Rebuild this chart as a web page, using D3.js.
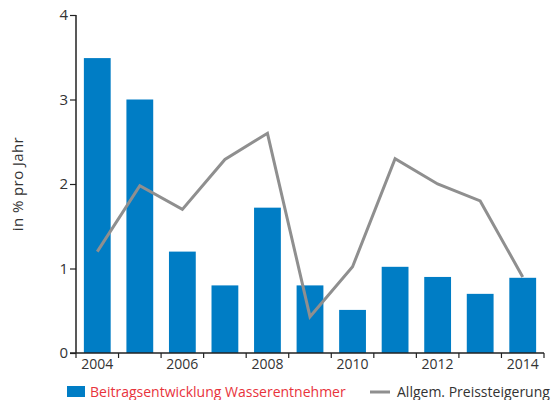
<!DOCTYPE html>
<html><head><meta charset="utf-8">
<script src="https://d3js.org/d3.v7.min.js"></script>
<style>body{margin:0;background:#fff}svg{display:block}text{font-family:"Open Sans",sans-serif}</style>
</head><body><svg id="c" width="556" height="400"></svg>
<script>
const years = ["2004","2005","2006","2007","2008","2009","2010","2011","2012","2013","2014"];
const beitrag = [3.49, 3.0, 1.2, 0.8, 1.72, 0.8, 0.51, 1.02, 0.9, 0.7, 0.89];
const preis = [1.2, 1.98, 1.7, 2.29, 2.6, 0.43, 1.02, 2.3, 2.0, 1.8, 0.9];
const yTicks = [0, 1, 2, 3, 4];
const labelYears = ["2004","2006","2008","2010","2012","2014"];
const seriesNames = ["Beitragsentwicklung Wasserentnehmer", "Allgem. Preissteigerung"];

(function(){
const svg = d3.select("#c");
const mL = 76, mR = 544, mT = 15, mB = 353;
const x = d3.scaleBand().domain(years).range([mL, mR]).paddingInner(0.37).paddingOuter(0.185);
const xb = d3.scaleBand().domain(years).range([mL, mR]);
const y = d3.scaleLinear().domain([0, 4]).range([mB, mT]);
const txt = "#333";

svg.selectAll("rect.bar").data(years).enter().append("rect")
  .attr("class","bar")
  .attr("x", d => x(d)).attr("width", x.bandwidth())
  .attr("y", (d,i) => y(beitrag[i])).attr("height", (d,i) => y(0) - y(beitrag[i]))
  .attr("fill", "#007dc5");

const line = d3.line().x((d,i) => xb(years[i]) + xb.bandwidth()/2).y(d => y(d));
svg.append("path").attr("d", line(preis)).attr("fill","none")
  .attr("stroke","#8f8f8f").attr("stroke-width",3).attr("stroke-linejoin","miter");

// y axis
const ya = svg.append("g").attr("transform",`translate(${mL},0)`)
  .call(d3.axisLeft(y).tickValues(yTicks).tickSize(6).tickFormat(d3.format("d")));
ya.select(".domain").attr("stroke","#222").attr("stroke-width",1.5).attr("d",`M0,${mT}V${mB}`);
ya.selectAll(".tick line").attr("stroke","#222").attr("stroke-width",1.2);
ya.selectAll(".tick text").attr("font-size",15).attr("fill",txt).attr("x",-8);

// x axis
const xa = svg.append("g").attr("transform",`translate(0,${mB})`);
xa.append("line").attr("x1",mL-6).attr("x2",mR).attr("y1",0).attr("y2",0)
  .attr("stroke","#222").attr("stroke-width",1.5);
const bounds = years.map(d => xb(d)).concat([mR]);
xa.selectAll("line.t").data(bounds).enter().append("line").attr("class","t")
  .attr("x1",d=>d).attr("x2",d=>d).attr("y1",0).attr("y2",5)
  .attr("stroke","#222").attr("stroke-width",1.2);
xa.selectAll("text").data(labelYears).enter().append("text")
  .attr("x", d => xb(d) + xb.bandwidth()/2).attr("y", 16)
  .attr("text-anchor","middle").attr("font-size",14).attr("fill",txt).text(d=>d);

// y label
svg.append("text").attr("transform","translate(23,184) rotate(-90)")
  .attr("text-anchor","middle").attr("font-size",15).attr("letter-spacing",0.4).attr("fill",txt).text("in % pro Jahr");

// legend
svg.append("rect").attr("x",67).attr("y",386).attr("width",18).attr("height",11).attr("fill","#007dc5");
svg.append("text").attr("x",90).attr("y",397).attr("font-size",14).attr("fill","#e8333c").text(seriesNames[0]);
svg.append("line").attr("x1",370).attr("x2",390).attr("y1",392).attr("y2",392)
  .attr("stroke","#8f8f8f").attr("stroke-width",3);
svg.append("text").attr("x",397).attr("y",397).attr("font-size",14).attr("fill",txt).text(seriesNames[1]);
})();
</script></body></html>
